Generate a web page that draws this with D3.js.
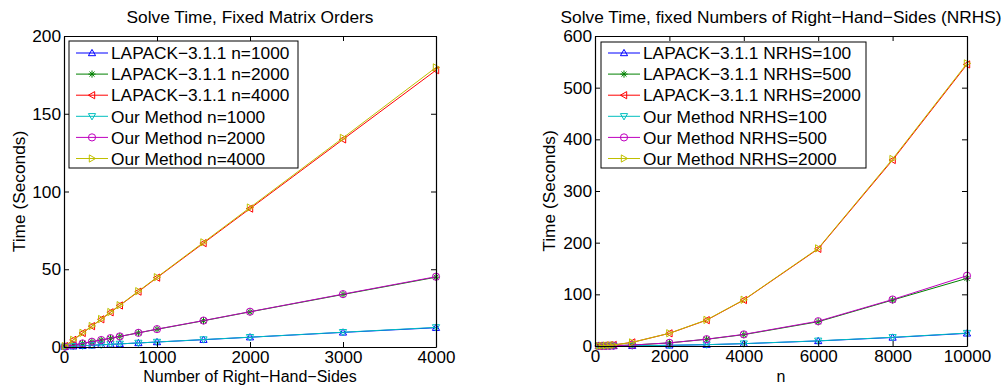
<!DOCTYPE html>
<html>
<head>
<meta charset="utf-8">
<script src="https://cdn.jsdelivr.net/npm/d3@7"></script>
<style>
  body { margin: 0; background: #fff; }
  svg text { font-family: "Liberation Sans", Arial, sans-serif; fill: #000; }
</style>
</head>
<body>
<div id="chart"></div>
<script>
// Left chart: solve time vs number of right-hand-sides
const nrhsValues = [10, 100, 200, 300, 400, 500, 600, 800, 1000, 1500, 2000, 3000, 4000];
const lapackN1000 = [0.2, 0.5, 0.8, 1.1, 1.4, 1.7, 2.0, 2.6, 3.2, 4.7, 6.3, 9.4, 12.4];
const lapackN2000 = [0.2, 1.2, 2.3, 3.4, 4.5, 5.6, 6.8, 9.1, 11.4, 16.9, 22.6, 33.8, 44.9];
const lapackN4000 = [0.6, 4.6, 9.0, 13.4, 17.8, 22.3, 26.7, 35.6, 44.6, 66.8, 89.0, 133.5, 178.0];
const oursN1000 = [0.2, 0.5, 0.8, 1.1, 1.4, 1.7, 2.0, 2.6, 3.2, 4.8, 6.3, 9.5, 12.6];
const oursN2000 = [0.2, 1.2, 2.3, 3.4, 4.5, 5.7, 6.8, 9.1, 11.5, 17.0, 22.7, 34.0, 45.2];
const oursN4000 = [0.6, 4.6, 9.1, 13.5, 18.0, 22.5, 26.9, 35.9, 44.9, 67.3, 89.7, 134.5, 179.8];
const leftLabels = ['LAPACK\u22123.1.1 n=1000', 'LAPACK\u22123.1.1 n=2000', 'LAPACK\u22123.1.1 n=4000',
                    'Our Method n=1000', 'Our Method n=2000', 'Our Method n=4000'];
const leftXTicks = [0, 1000, 2000, 3000, 4000];
const leftYTicks = [0, 50, 100, 150, 200];

// Right chart: solve time vs matrix order n
const orderValues = [100, 200, 300, 400, 500, 1000, 2000, 3000, 4000, 6000, 8000, 10000];
const lapackR100 = [0.02, 0.05, 0.1, 0.15, 0.2, 0.5, 1.3, 2.6, 4.5, 9.8, 16.5, 24.5];
const lapackR500 = [0.05, 0.15, 0.3, 0.5, 0.7, 1.8, 6.0, 13.0, 22.0, 47.0, 89.0, 131.0];
const lapackR2000 = [0.2, 0.6, 1.0, 1.5, 2.0, 7.0, 24.5, 50.0, 89.0, 188.0, 360.0, 545.0];
const oursR100 = [0.02, 0.05, 0.1, 0.15, 0.2, 0.5, 1.3, 2.6, 4.6, 10.0, 16.8, 25.0];
const oursR500 = [0.05, 0.15, 0.3, 0.5, 0.7, 1.8, 6.1, 13.2, 22.5, 48.0, 90.0, 136.0];
const oursR2000 = [0.2, 0.6, 1.0, 1.5, 2.0, 7.0, 24.7, 50.5, 89.5, 189.0, 362.0, 547.0];
const rightLabels = ['LAPACK\u22123.1.1 NRHS=100', 'LAPACK\u22123.1.1 NRHS=500', 'LAPACK\u22123.1.1 NRHS=2000',
                     'Our Method NRHS=100', 'Our Method NRHS=500', 'Our Method NRHS=2000'];
const rightXTicks = [0, 2000, 4000, 6000, 8000, 10000];
const rightYTicks = [0, 100, 200, 300, 400, 500, 600];

const colors = ['#0000ff', '#008000', '#ff0000', '#00bfbf', '#bf00bf', '#bfbf00'];
const markers = ['up', 'star', 'left', 'down', 'circle', 'right'];
const fontSize = '17.3px';

const width = 1006, height = 385;
const svg = d3.select('#chart').append('svg')
  .attr('width', width)
  .attr('height', height);

function markerPath(type, s) {
  const h = s;
  if (type === 'up') return `M0,${-h}L${h},${h * 0.75}L${-h},${h * 0.75}Z`;
  if (type === 'down') return `M0,${h}L${h},${-h * 0.75}L${-h},${-h * 0.75}Z`;
  if (type === 'left') return `M${-h},0L${h * 0.75},${-h}L${h * 0.75},${h}Z`;
  if (type === 'right') return `M${h},0L${-h * 0.75},${-h}L${-h * 0.75},${h}Z`;
  if (type === 'star') {
    const d = h * 0.7;
    return `M${-h},0L${h},0M0,${-h}L0,${h}M${-d},${-d}L${d},${d}M${-d},${d}L${d},${-d}`;
  }
  return d3.arc()({ innerRadius: 0, outerRadius: h, startAngle: 0, endAngle: 2 * Math.PI });
}

function drawPanel(opt) {
  const x = d3.scaleLinear().domain(opt.xDomain).range([opt.left, opt.right]);
  const y = d3.scaleLinear().domain(opt.yDomain).range([opt.bottom, opt.top]);
  const g = svg.append('g');

  // Series: LAPACK first, ours on top
  opt.series.forEach((vals, i) => {
    const pts = opt.xs.map((xv, j) => [xv, vals[j]]);
    g.append('path')
      .datum(pts)
      .attr('fill', 'none')
      .attr('stroke', colors[i])
      .attr('stroke-width', 1)
      .attr('d', d3.line().x(d => x(d[0])).y(d => y(d[1])));
    g.selectAll(null)
      .data(pts)
      .enter().append('path')
      .attr('transform', d => `translate(${x(d[0])},${y(d[1])})`)
      .attr('d', markerPath(markers[i], 3.6))
      .attr('fill', 'none')
      .attr('stroke', colors[i])
      .attr('stroke-width', 1);
  });

  // Axes, ticks pointing inward, on all four sides
  const axisStyle = sel => {
    sel.select('.domain').attr('stroke', '#000').attr('stroke-width', 1.2);
    sel.selectAll('.tick line').attr('stroke', '#000');
    sel.selectAll('.tick text').style('font-size', fontSize)
      .style('font-family', '"Liberation Sans", Arial, sans-serif');
  };
  const fmt = d3.format('d');
  g.append('g')
    .attr('transform', `translate(0,${opt.bottom})`)
    .call(d3.axisBottom(x).tickValues(opt.xTicks).tickFormat(fmt).tickSizeInner(-5).tickSizeOuter(0).tickPadding(4))
    .call(axisStyle)
    .call(sel => sel.selectAll('.tick text').style('font-size', '17px'));
  g.append('g')
    .attr('transform', `translate(${opt.left},0)`)
    .call(d3.axisLeft(y).tickValues(opt.yTicks).tickFormat(fmt).tickSizeInner(-5).tickSizeOuter(0).tickPadding(3))
    .call(axisStyle);
  g.append('g')
    .attr('transform', `translate(0,${opt.top})`)
    .call(d3.axisTop(x).tickValues(opt.xTicks).tickFormat('').tickSizeInner(-5).tickSizeOuter(0))
    .call(axisStyle);
  g.append('g')
    .attr('transform', `translate(${opt.right},0)`)
    .call(d3.axisRight(y).tickValues(opt.yTicks).tickFormat('').tickSizeInner(-5).tickSizeOuter(0))
    .call(axisStyle);

  // Title and axis labels
  g.append('text')
    .attr('x', (opt.left + opt.right) / 2)
    .attr('y', 23)
    .attr('text-anchor', 'middle')
    .style('font-size', fontSize)
    .text(opt.title);
  g.append('text')
    .attr('x', (opt.left + opt.right) / 2)
    .attr('y', 381.5)
    .attr('text-anchor', 'middle')
    .style('font-size', '16px')
    .text(opt.xLabel);
  g.append('text')
    .attr('transform', `translate(${opt.yLabelX},${(opt.top + opt.bottom) / 2}) rotate(-90)`)
    .attr('text-anchor', 'middle')
    .style('font-size', fontSize)
    .text('Time (Seconds)');

  // Legend
  const lg = opt.legend;
  g.append('rect')
    .attr('x', lg.x).attr('y', lg.y)
    .attr('width', lg.w).attr('height', lg.h)
    .attr('fill', '#fff')
    .attr('stroke', '#000')
    .attr('stroke-width', 1);
  opt.labels.forEach((lab, i) => {
    const ry = 53 + i * 21.1;
    g.append('line')
      .attr('x1', lg.x + 7).attr('x2', lg.x + 39)
      .attr('y1', ry).attr('y2', ry)
      .attr('stroke', colors[i]);
    g.append('path')
      .attr('transform', `translate(${lg.x + 23},${ry})`)
      .attr('d', markerPath(markers[i], 3.6))
      .attr('fill', 'none')
      .attr('stroke', colors[i]);
    g.append('text')
      .attr('x', lg.x + 42)
      .attr('y', ry + 6.2)
      .style('font-size', fontSize)
      .text(lab);
  });
}

drawPanel({
  left: 64, right: 436, top: 36, bottom: 347,
  xDomain: [0, 4000], yDomain: [0, 200],
  xTicks: leftXTicks, yTicks: leftYTicks,
  xs: nrhsValues,
  series: [lapackN1000, lapackN2000, lapackN4000, oursN1000, oursN2000, oursN4000],
  labels: leftLabels,
  title: 'Solve Time, Fixed Matrix Orders',
  xLabel: 'Number of Right\u2212Hand\u2212Sides',
  yLabelX: 25,
  legend: { x: 69, y: 41, w: 229, h: 127 }
});

drawPanel({
  left: 595, right: 967, top: 36, bottom: 346,
  xDomain: [0, 10000], yDomain: [0, 600],
  xTicks: rightXTicks, yTicks: rightYTicks,
  xs: orderValues,
  series: [lapackR100, lapackR500, lapackR2000, oursR100, oursR500, oursR2000],
  labels: rightLabels,
  title: 'Solve Time, fixed Numbers of Right\u2212Hand\u2212Sides (NRHS)',
  xLabel: 'n',
  yLabelX: 555,
  legend: { x: 601, y: 42, w: 265, h: 126 }
});
</script>
</body>
</html>
